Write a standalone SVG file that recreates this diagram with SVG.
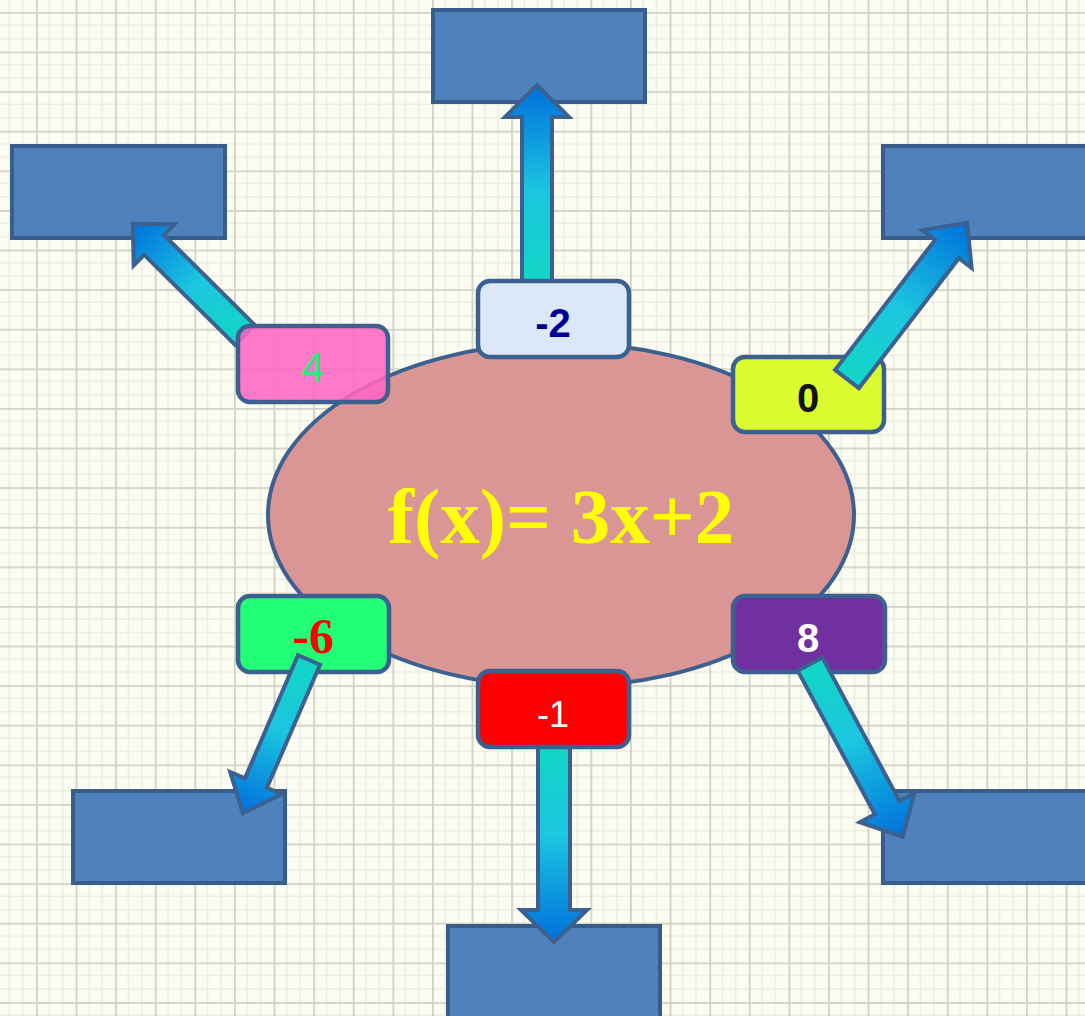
<svg xmlns="http://www.w3.org/2000/svg" width="1085" height="1016" viewBox="0 0 1085 1016">
<defs>
<pattern id="grid" width="39.6" height="39.6" patternUnits="userSpaceOnUse" patternTransform="translate(-3.6,12)">
<rect width="39.6" height="39.6" fill="#fbfcf2"/>
<path d="M13.2,0V39.6M26.4,0V39.6M0,13.2H39.6M0,26.4H39.6" stroke="#dcdccc" stroke-width="1.5" fill="none" opacity="0.45"/>
<path d="M0,0V39.6M0,0H39.6" stroke="#c0c1ae" stroke-width="3.5" fill="none" opacity="0.7"/>
</pattern>
<linearGradient id="ag" x1="0" y1="0" x2="1" y2="0">
<stop offset="0" stop-color="#12d6c6"/>
<stop offset="0.45" stop-color="#1cc6e0"/>
<stop offset="1" stop-color="#0070dc"/>
</linearGradient>
<style>
.tgt{fill:#4f81bd;stroke:#385d8a;stroke-width:4}
.lab{stroke:#3c6190;stroke-width:4.5}
.arr{fill:url(#ag);stroke:#3c6190;stroke-width:4;stroke-linejoin:miter}
.sans{font-family:"Liberation Sans","Open Sans",sans-serif;text-anchor:middle}
</style>
</defs>
<rect width="1085" height="1016" fill="url(#grid)"/>

<g id="targets">
<rect id="t-top" class="tgt" x="433" y="10" width="212" height="92"/>
<rect id="t-tl" class="tgt" x="12" y="146" width="213" height="92"/>
<rect id="t-tr" class="tgt" x="883" y="146" width="210" height="92"/>
<rect id="t-bl" class="tgt" x="73" y="791" width="212" height="92"/>
<rect id="t-br" class="tgt" x="883" y="791" width="210" height="92"/>
<rect id="t-b" class="tgt" x="448" y="926" width="212" height="100"/>
</g>

<g id="func">
<ellipse cx="561" cy="515" rx="293" ry="172" fill="#d99694" stroke="#3c6190" stroke-width="4"/>
<text x="561" y="543" font-family="'Liberation Serif','Times New Roman',serif" font-weight="bold" font-size="79" fill="#ffff00" text-anchor="middle">f(x)= 3x+2</text>
</g>

<g id="connectors-under">
<path class="arr" transform="translate(537,281) rotate(-90)" d="M0,-15L164,-15L164,-32L196,0L164,32L164,15L0,15Z"/>
<path class="arr" transform="translate(245,335) rotate(-135.26)" d="M0,-14L128,-14L128,-29L158,0L128,29L128,14L0,14Z"/>
<path class="arr" transform="translate(554,747) rotate(90)" d="M0,-16L163,-16L163,-33L195,0L163,33L163,16L0,16Z"/>
</g>

<g id="n-4">
<rect class="lab" x="238" y="326" width="150" height="76" rx="12" fill="#ff66c4" fill-opacity="0.88"/>
<text class="sans" x="313" y="382" font-size="42" fill="#33e67a">4</text>
</g>
<g id="n-m2">
<rect class="lab" x="478" y="281" width="151" height="76" rx="12" fill="#dce8f7"/>
<text class="sans" x="553" y="337" font-size="40" font-weight="bold" fill="#000099">-2</text>
</g>
<g id="n-0">
<rect class="lab" x="733" y="357" width="151" height="75" rx="12" fill="#dcfa30"/>
<text class="sans" x="808" y="412" font-size="40" font-weight="bold" fill="#111111">0</text>
</g>
<g id="n-m6">
<rect class="lab" x="238" y="596" width="151" height="76" rx="12" fill="#22ff77"/>
<text x="313" y="653" font-family="'Liberation Serif','Times New Roman',serif" font-weight="bold" font-size="50" fill="#ff0000" text-anchor="middle">-6</text>
</g>
<g id="n-m1">
<rect class="lab" x="478" y="671" width="151" height="76" rx="12" fill="#ff0000"/>
<text class="sans" x="553" y="727" font-size="36" fill="#ffffff">-1</text>
</g>
<g id="n-8">
<rect class="lab" x="733" y="596" width="152" height="76" rx="12" fill="#7030a0"/>
<text class="sans" x="808" y="652" font-size="40" font-weight="bold" fill="#ffffff">8</text>
</g>

<g id="connectors">
<path class="arr" transform="translate(847,379) rotate(-52.43)" d="M0,-15L164,-15L164,-31L197,0L164,31L164,15L0,15Z"/>
<path class="arr" transform="translate(810,664) rotate(61.74)" d="M0,-14L163,-14L163,-31L196,0L163,31L163,14L0,14Z"/>
<path class="arr" transform="translate(309,660) rotate(113.33)" d="M0,-12L134,-12L134,-28L167,0L134,28L134,12L0,12Z"/>
</g>
</svg>
